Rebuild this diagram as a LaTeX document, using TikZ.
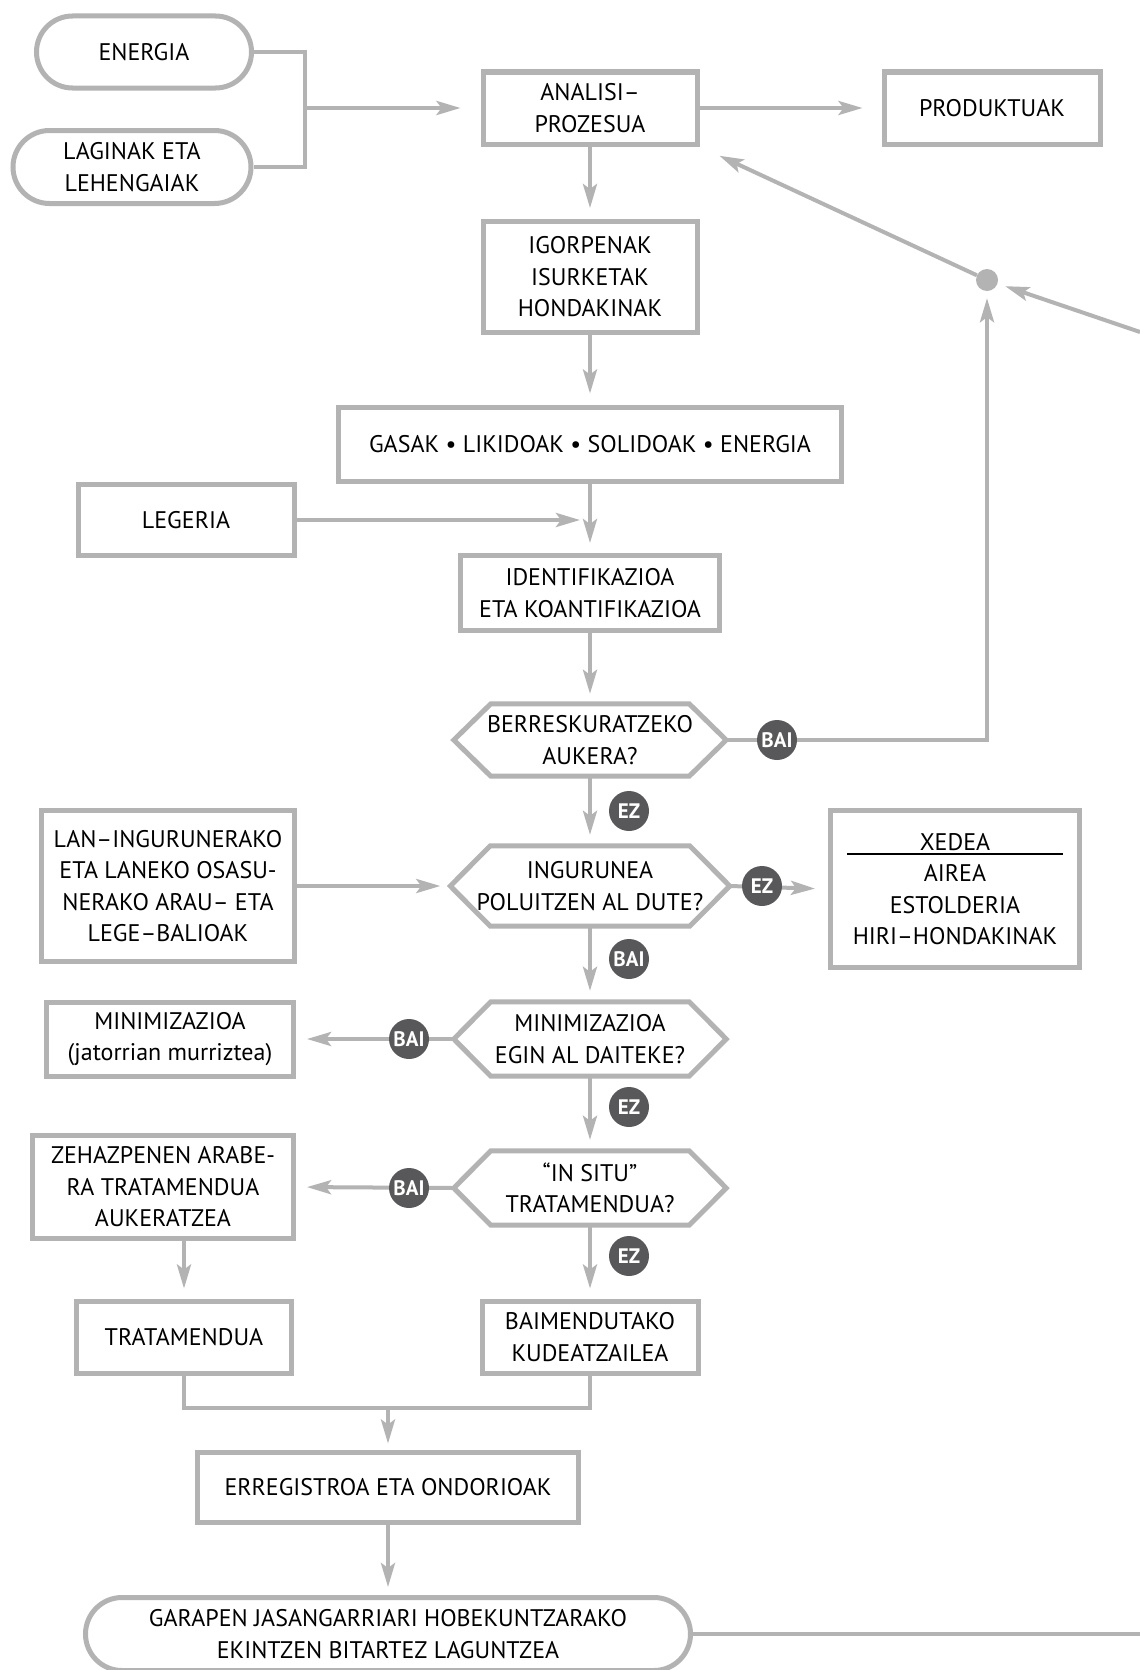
\documentclass[tikz,border=0pt]{standalone}
\usepackage{fontspec}
\setmainfont{PT Sans}
\usetikzlibrary{arrows.meta,shapes.misc,calc}
\definecolor{lg}{HTML}{B3B3B3}
\definecolor{dg}{HTML}{58585A}

% hexagonal decision outline drawn around a borderless node
\newcommand\hexoutline[2]{%
  \draw[hexline] (#1.west) -- ($(#1.north west)+(#2,0)$) -- ($(#1.north east)+(-#2,0)$)
    -- (#1.east) -- ($(#1.south east)+(-#2,0)$) -- ($(#1.south west)+(#2,0)$) -- cycle;}

\begin{document}
\begin{tikzpicture}[x=1pt,y=-1pt,
  every node/.style={font=\fontsize{24}{31.5}\selectfont, align=center, inner sep=0pt, text=black},
  box/.style={draw=lg, line width=5pt, fill=white, rectangle},
  pill/.style={draw=lg, line width=5pt, fill=white, rounded rectangle},
  hexnode/.style={rectangle},
  hexline/.style={draw=lg, line width=5pt, line join=miter},
  conn/.style={draw=lg, line width=4pt},
  arr/.style={conn, -{Stealth[length=24pt,width=14pt,inset=5pt]}},
  yn/.style={circle, fill=dg, minimum size=40pt, text=white,
    font=\fontsize{21}{21}\selectfont\bfseries},
  dotnode/.style={circle, fill=lg, minimum size=22pt}
]
\useasboundingbox (0,0) rectangle (1140,1670);
\fill[white] (0,0) rectangle (1140,1670);

% inputs and process
\node[pill, minimum width=215, minimum height=72] (energia) at (144,52) {ENERGIA};
\node[pill, minimum width=238, minimum height=73] (laginak) at (132,167) {LAGINAK ETA\\LEHENGAIAK};
\node[box, minimum width=214, minimum height=72] (analisi) at (590,108) {ANALISI–\\PROZESUA};
\node[box, minimum width=216, minimum height=72] (produktuak) at (992,108) {PRODUKTUAK};
\node[box, minimum width=214, minimum height=111] (igorpenak) at (590,277) {IGORPENAK\\ISURKETAK\\HONDAKINAK};
\node[box, minimum width=503, minimum height=74] (gasak) at (590,444) {GASAK • LIKIDOAK • SOLIDOAK • ENERGIA};
\node[box, minimum width=216, minimum height=71] (legeria) at (186,520) {LEGERIA};
\node[box, minimum width=259, minimum height=75] (ident) at (590,593) {IDENTIFIKAZIOA\\ETA KOANTIFIKAZIOA};

% decisions
\node[hexnode, minimum width=272, minimum height=72] (hexa) at (590,740) {BERRESKURATZEKO\\AUKERA?};
\node[hexnode, minimum width=279, minimum height=80] (hexb) at (590,886) {INGURUNEA\\POLUITZEN AL DUTE?};
\node[hexnode, minimum width=272, minimum height=74] (hexc) at (590,1039) {MINIMIZAZIOA\\EGIN AL DAITEKE?};
\node[hexnode, minimum width=272, minimum height=74] (hexd) at (590,1188) {“IN SITU”\\TRATAMENDUA?};
\hexoutline{hexa}{37}
\hexoutline{hexb}{40}
\hexoutline{hexc}{37}
\hexoutline{hexd}{37}

% side boxes
\node[box, minimum width=249, minimum height=157] (xedea) at (955,889) {XEDEA\\AIREA\\ESTOLDERIA\\HIRI–HONDAKINAK};
\draw[black, line width=1.2pt] ($(xedea.center)+(-108,-35)$) -- ($(xedea.center)+(108,-35)$);
\node[box, minimum width=253, minimum height=151] (lan) at (168,886) {LAN–INGURUNERAKO\\ETA LANEKO OSASU-\\NERAKO ARAU– ETA\\LEGE–BALIOAK};
\node[box, minimum width=247, minimum height=74] (mini) at (170,1039) {MINIMIZAZIOA\\(jatorrian murriztea)};
\node[box, minimum width=261, minimum height=103] (zeh) at (163,1187) {ZEHAZPENEN ARABE-\\RA TRATAMENDUA\\AUKERATZEA};
\node[box, minimum width=215, minimum height=72] (trat) at (184,1337) {TRATAMENDUA};
\node[box, minimum width=216, minimum height=72] (baim) at (590,1337) {BAIMENDUTAKO\\KUDEATZAILEA};
\node[box, minimum width=381, minimum height=70] (erreg) at (388,1487) {ERREGISTROA ETA ONDORIOAK};
\node[pill, minimum width=605, minimum height=73] (garapen) at (388,1634) {GARAPEN JASANGARRIARI HOBEKUNTZARAKO\\EKINTZEN BITARTEZ LAGUNTZEA};

\node[dotnode] (dot) at (987,280) {};
\coordinate (brk) at (305,108);
\coordinate (mrg) at (388,1408);
\coordinate (edgea) at (1140,332);
\coordinate (edgeb) at (1140,1634);

% connectors
\draw[conn] (energia.east) -| (brk) |- (laginak.east);
\draw[arr, shorten >=20pt] (brk) -- (analisi.west);
\draw[arr, shorten >=19pt] (analisi.east) -- (produktuak.west);
\draw[arr, shorten >=11pt] (analisi.south) -- (igorpenak.north);
\draw[arr, shorten >=11pt] (igorpenak.south) -- (gasak.north);
\draw[arr, shorten >=10pt] (gasak.south) -- (ident.north);
\draw[arr, shorten >=10pt] (legeria.east) -- (legeria.east -| ident.north);
\draw[arr, shorten >=10pt] (ident.south) -- (hexa.north);
\draw[arr, shorten >=7pt] (hexa.east) -| (dot);
\draw[arr, shorten >=22pt] (dot) -- (analisi.south east);
\draw[arr, shorten >=8pt] (edgea) -- (dot);
\draw[arr, shorten >=11pt] (hexa.south) -- (hexb.north);
\draw[arr, shorten >=13pt] (hexb.east) -- (xedea.west);
\draw[arr, shorten >=10pt] (lan.east) -- (hexb.west);
\draw[arr, shorten >=11pt] (hexb.south) -- (hexc.north);
\draw[arr, shorten >=11pt] (hexc.west) -- (mini.east);
\draw[arr, shorten >=11pt] (hexc.south) -- (hexd.north);
\draw[arr, shorten >=11pt] (hexd.west) -- (zeh.east);
\draw[arr, shorten >=10pt] (zeh.south -| trat.north) -- (trat.north);
\draw[arr, shorten >=10pt] (hexd.south) -- (baim.north);
\draw[conn] (trat.south) |- (mrg) -| (baim.south);
\draw[arr, shorten >=6pt] (mrg) -- (erreg.north);
\draw[arr, shorten >=8pt] (erreg.south) -- (garapen.north);
\draw[conn] (garapen.east) -- (edgeb);

% yes / no markers
\node[yn] (ba) at (777,740) {BAI};
\node[yn] (ea) at (629,811) {EZ};
\node[yn] (eb) at (762,886) {EZ};
\node[yn] (bb) at (629,959) {BAI};
\node[yn] (bc) at (409,1039) {BAI};
\node[yn] (ec) at (629,1107) {EZ};
\node[yn] (bd) at (409,1188) {BAI};
\node[yn] (ed) at (629,1256) {EZ};
\end{tikzpicture}
\end{document}
